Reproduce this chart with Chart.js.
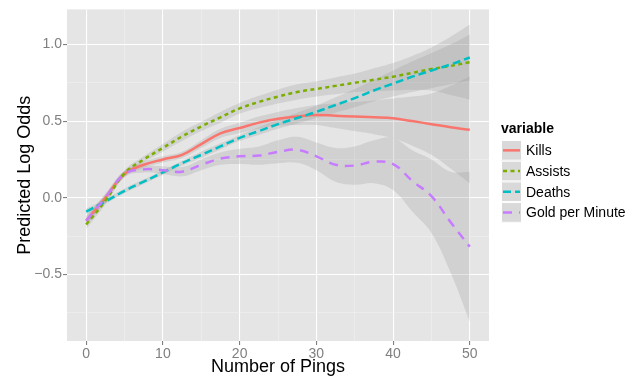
<!DOCTYPE html>
<html>
<head>
<meta charset="utf-8">
<script src="https://cdn.jsdelivr.net/npm/chart.js@4.4.0/dist/chart.umd.min.js"></script>
<style>
  html, body { margin: 0; padding: 0; background: #fff; }
</style>
</head>
<body>
<canvas id="myChart" width="639" height="380"></canvas>
<script>
    // values
    const pings = [0, 2.5, 5, 7.5, 10, 12.5, 15, 17.5, 20, 22.5, 25, 27.5, 30, 32.5, 35, 37.5, 40, 42.5, 45, 47.5, 50];

    const kills   = [-0.15, 0.0, 0.155, 0.215, 0.25, 0.28, 0.35, 0.42, 0.455, 0.49, 0.515, 0.53, 0.54, 0.535, 0.53, 0.525, 0.518, 0.5, 0.48, 0.46, 0.443];
    const killsLo = [-0.18, -0.025, 0.135, 0.195, 0.23, 0.26, 0.325, 0.39, 0.42, 0.45, 0.47, 0.475, 0.475, 0.455, 0.435, 0.415, 0.388, 0.34, 0.28, 0.19, 0.093];
    const killsHi = [-0.12, 0.025, 0.175, 0.235, 0.27, 0.30, 0.375, 0.45, 0.49, 0.53, 0.56, 0.585, 0.605, 0.615, 0.625, 0.635, 0.648, 0.66, 0.68, 0.73, 0.793];

    const assists   = [-0.175, -0.02, 0.16, 0.25, 0.325, 0.40, 0.465, 0.525, 0.583, 0.625, 0.66, 0.69, 0.71, 0.73, 0.75, 0.77, 0.79, 0.815, 0.84, 0.86, 0.885];
    const assistsLo = [-0.205, -0.045, 0.14, 0.23, 0.30, 0.37, 0.435, 0.49, 0.548, 0.585, 0.615, 0.64, 0.66, 0.675, 0.69, 0.695, 0.70, 0.705, 0.70, 0.67, 0.64];
    const assistsHi = [-0.145, 0.005, 0.18, 0.27, 0.35, 0.43, 0.495, 0.56, 0.618, 0.665, 0.705, 0.74, 0.76, 0.785, 0.81, 0.845, 0.88, 0.925, 0.98, 1.05, 1.13];

    const deaths   = [-0.09, -0.025, 0.045, 0.105, 0.165, 0.225, 0.28, 0.335, 0.39, 0.435, 0.48, 0.52, 0.56, 0.605, 0.65, 0.70, 0.745, 0.79, 0.83, 0.87, 0.915];
    const deathsLo = [-0.11, -0.04, 0.03, 0.09, 0.15, 0.21, 0.26, 0.315, 0.37, 0.41, 0.45, 0.485, 0.52, 0.555, 0.59, 0.63, 0.66, 0.69, 0.715, 0.74, 0.765];
    const deathsHi = [-0.07, -0.01, 0.06, 0.12, 0.18, 0.24, 0.30, 0.355, 0.41, 0.46, 0.51, 0.555, 0.60, 0.655, 0.71, 0.77, 0.83, 0.89, 0.945, 1.0, 1.065];

    const gold   = [-0.15, 0.0, 0.155, 0.185, 0.18, 0.17, 0.215, 0.255, 0.27, 0.275, 0.30, 0.313, 0.27, 0.215, 0.21, 0.235, 0.22, 0.11, 0.01, -0.16, -0.32];
    const goldLo = [-0.18, -0.025, 0.135, 0.165, 0.155, 0.14, 0.18, 0.215, 0.22, 0.215, 0.225, 0.228, 0.18, 0.105, 0.085, 0.095, 0.05, -0.09, -0.23, -0.49, -0.81];
    const goldHi = [-0.12, 0.025, 0.175, 0.205, 0.205, 0.20, 0.25, 0.295, 0.32, 0.335, 0.375, 0.398, 0.36, 0.325, 0.335, 0.375, 0.39, 0.31, 0.25, 0.17, 0.17];

    const xMajor = [0, 10, 20, 30, 40, 50];
    const xMinor = [5, 15, 25, 35, 45];
    const yMajor = [-0.5, 0, 0.5, 1.0];
    const yMinor = [-0.75, -0.25, 0.25, 0.75];

    // setup
    Chart.defaults.font.family = '"Liberation Sans", Arial, sans-serif';

    const bandFill = 'rgba(153, 153, 153, 0.25)';
    const pts = (ys) => pings.map((x, i) => ({ x: x, y: ys[i] }));

    function band(lo, hi) {
      return [
        { data: pts(hi), borderWidth: 0, pointRadius: 0, fill: false, tension: 0.4 },
        { data: pts(lo), borderWidth: 0, pointRadius: 0, fill: '-1', backgroundColor: bandFill, tension: 0.4 }
      ];
    }
    function line(label, ys, color, dash) {
      return { label: label, data: pts(ys), borderColor: color, borderDash: dash,
               borderWidth: 2.5, pointRadius: 0, fill: false, tension: 0.4, isSeries: true };
    }

    const data = {
      datasets: [
        line('Gold per Minute', gold, '#C77CFF', [9, 7]),
        line('Deaths', deaths, '#00BFC4', [8, 4]),
        line('Assists', assists, '#7CAE00', [4, 3.5]),
        line('Kills', kills, '#F8766D', []),
        ...band(killsLo, killsHi),
        ...band(assistsLo, assistsHi),
        ...band(deathsLo, deathsHi),
        ...band(goldLo, goldHi)
      ]
    };

    const isMajorX = v => xMajor.includes(v);
    const isMajorY = v => yMajor.some(m => Math.abs(m - v) < 1e-9);
    const fmtY = v => (v < 0 ? '\u2212' : '') + Math.abs(v).toFixed(1);

    // grey panel behind everything
    const panelBg = {
      id: 'panelBg',
      beforeDraw(chart) {
        const { ctx, chartArea: a } = chart;
        ctx.save();
        ctx.fillStyle = '#E5E5E5';
        ctx.fillRect(a.left, a.top, a.right - a.left, a.bottom - a.top);
        ctx.restore();
      }
    };

    // ggplot style legend on the right
    const sideLegend = {
      id: 'sideLegend',
      afterDraw(chart) {
        const ctx = chart.ctx;
        const series = chart.data.datasets.filter(d => d.isSeries).reverse();
        const x0 = 501, y0 = 140, w = 21, h = 20.7;
        ctx.save();
        ctx.fillStyle = '#000';
        ctx.font = 'bold 14px "Liberation Sans", Arial, sans-serif';
        ctx.textBaseline = 'middle';
        ctx.fillText('variable', 501, 129);
        series.forEach((d, i) => {
          const y = y0 + i * h;
          ctx.fillStyle = '#D9D9D9';
          ctx.fillRect(x0, y, w, h);
          ctx.strokeStyle = '#FFFFFF';
          ctx.lineWidth = 1;
          ctx.strokeRect(x0 + 0.5, y + 0.5, w - 1, h - 1);
          ctx.beginPath();
          ctx.setLineDash(d.borderDash);
          ctx.strokeStyle = d.borderColor;
          ctx.lineWidth = 2.5;
          ctx.moveTo(x0 + 2, y + h / 2);
          ctx.lineTo(x0 + w - 2, y + h / 2);
          ctx.stroke();
          ctx.setLineDash([]);
          ctx.fillStyle = '#000';
          ctx.font = '14px "Liberation Sans", Arial, sans-serif';
          ctx.fillText(d.label, x0 + w + 4, y + h / 2 + 1);
        });
        ctx.restore();
      }
    };

    // config
    const config = {
      type: 'line',
      data,
      options: {
        responsive: false,
        animation: false,
        layout: { padding: { top: 7, right: 150, left: 0, bottom: 0 } },
        plugins: { legend: { display: false }, tooltip: { enabled: false } },
        scales: {
          x: {
            type: 'linear',
            min: -2.5,
            max: 52.5,
            afterBuildTicks: s => { s.ticks = [...xMajor, ...xMinor].sort((a, b) => a - b).map(v => ({ value: v })); },
            afterFit: s => { s.height = 39; },
            border: { display: false },
            grid: {
              color: c => isMajorX(c.tick.value) ? '#FFFFFF' : '#F2F2F2',
              lineWidth: c => isMajorX(c.tick.value) ? 1.1 : 0.5,
              tickColor: c => isMajorX(c.tick.value) ? '#7F7F7F' : 'rgba(0,0,0,0)',
              tickLength: 4
            },
            ticks: {
              autoSkip: false,
              maxRotation: 0,
              padding: 1,
              color: '#7F7F7F',
              font: { size: 14 },
              callback: v => isMajorX(v) ? String(v) : ''
            },
            title: { display: true, text: 'Number of Pings', color: '#000', font: { size: 18 }, padding: { top: 0, bottom: 2 } }
          },
          y: {
            min: -0.935,
            max: 1.229,
            afterBuildTicks: s => { s.ticks = [...yMajor, ...yMinor].sort((a, b) => a - b).map(v => ({ value: v })); },
            afterFit: s => { s.width = 67; },
            border: { display: false },
            grid: {
              color: c => isMajorY(c.tick.value) ? '#FFFFFF' : '#F2F2F2',
              lineWidth: c => isMajorY(c.tick.value) ? 1.1 : 0.5,
              tickColor: c => isMajorY(c.tick.value) ? '#7F7F7F' : 'rgba(0,0,0,0)',
              tickLength: 4
            },
            ticks: {
              autoSkip: false,
              padding: 1,
              color: '#7F7F7F',
              font: { size: 14 },
              callback: v => isMajorY(v) ? fmtY(v) : ''
            },
            title: { display: true, text: 'Predicted Log Odds', color: '#000', font: { size: 18 }, padding: { top: 14, bottom: 0 } }
          }
        }
      },
      plugins: [panelBg, sideLegend]
    };

    // render init block
    const myChart = new Chart(document.getElementById('myChart'), config);
</script>
</body>
</html>
